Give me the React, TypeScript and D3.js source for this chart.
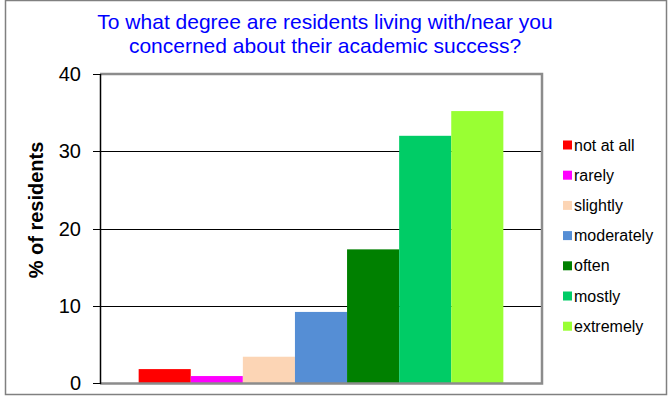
import React from "react";
import * as d3 from "d3";

const categories = ["not at all", "rarely", "slightly", "moderately", "often", "mostly", "extremely"];
const values = [1.8, 0.9, 3.4, 9.2, 17.3, 32.0, 35.2];
const colors = ["#FF0000", "#FF00FF", "#FCD5B5", "#558ED5", "#008000", "#00CC66", "#99FF33"];
const yTicks = [0, 10, 20, 30, 40];
const titleLines = ["To what degree are residents living with/near you", "concerned about their academic success?"];
const yLabel = "% of residents";

const W = 668, H = 398;
const plot = { left: 100, right: 542, top: 74, bottom: 383 };

export default function App() {
  const y = d3.scaleLinear().domain([0, 40]).range([plot.bottom, plot.top]);
  const outer = d3.scaleBand<string>().domain(["all"]).range([plot.left, plot.right]).paddingInner(0).paddingOuter(0.106);
  const inner = d3.scaleBand<string>().domain(categories).range([0, outer.bandwidth()]).padding(0);
  const x0 = outer("all") as number;
  const font = "'Liberation Sans', Arial, sans-serif";

  return (
    <svg width={W} height={H} style={{ position: "absolute", left: 0, top: 0, display: "block" }} fontFamily={font}>
      <rect x={0} y={0} width={W} height={H} fill="#fff" />
      <rect x={5.5} y={0.5} width={661} height={394} fill="none" stroke="#808080" strokeWidth={1.5} />
      {titleLines.map((t, i) => (
        <text key={i} x={325} y={29 + i * 24} textAnchor="middle" fontSize={21} fill="#0000FF">{t}</text>
      ))}
      {/* gridlines */}
      {yTicks.filter(t => t > 0 && t < 40).map(t => (
        <line key={t} x1={plot.left} x2={plot.right} y1={Math.round(y(t)) + 0.5} y2={Math.round(y(t)) + 0.5} stroke="#000" strokeWidth={1} />
      ))}
      {/* bars */}
      {categories.map((c, i) => (
        <rect key={c} x={x0 + (inner(c) as number)} width={inner.bandwidth()} y={y(values[i])} height={plot.bottom - y(values[i])} fill={colors[i]} />
      ))}
      {/* plot border */}
      <polyline points={`${plot.left},${plot.top} ${plot.right},${plot.top} ${plot.right},${plot.bottom + 0.5} ${plot.left},${plot.bottom + 0.5}`} fill="none" stroke="#8C8C8C" strokeWidth={2.5} />
      {/* y axis */}
      <line x1={plot.left + 0.5} x2={plot.left + 0.5} y1={plot.top} y2={plot.bottom + 1} stroke="#000" strokeWidth={1.5} />
      {yTicks.map(t => (
        <g key={t}>
          <line x1={93} x2={plot.left} y1={Math.round(y(t)) + 0.5} y2={Math.round(y(t)) + 0.5} stroke="#000" strokeWidth={1} />
          <text x={81} y={y(t) + 7} textAnchor="end" fontSize={20} fill="#000">{t}</text>
        </g>
      ))}
      <text transform={`translate(43,210) rotate(-90)`} textAnchor="middle" fontSize={20} fontWeight="bold" fill="#000">{yLabel}</text>
      {/* legend */}
      {categories.map((c, i) => (
        <g key={c} transform={`translate(563,${145 + i * 30.2})`}>
          <rect x={0} y={-4.5} width={9} height={9} fill={colors[i]} />
          <text x={11} y={5.5} fontSize={16} fill="#000">{c}</text>
        </g>
      ))}
    </svg>
  );
}
